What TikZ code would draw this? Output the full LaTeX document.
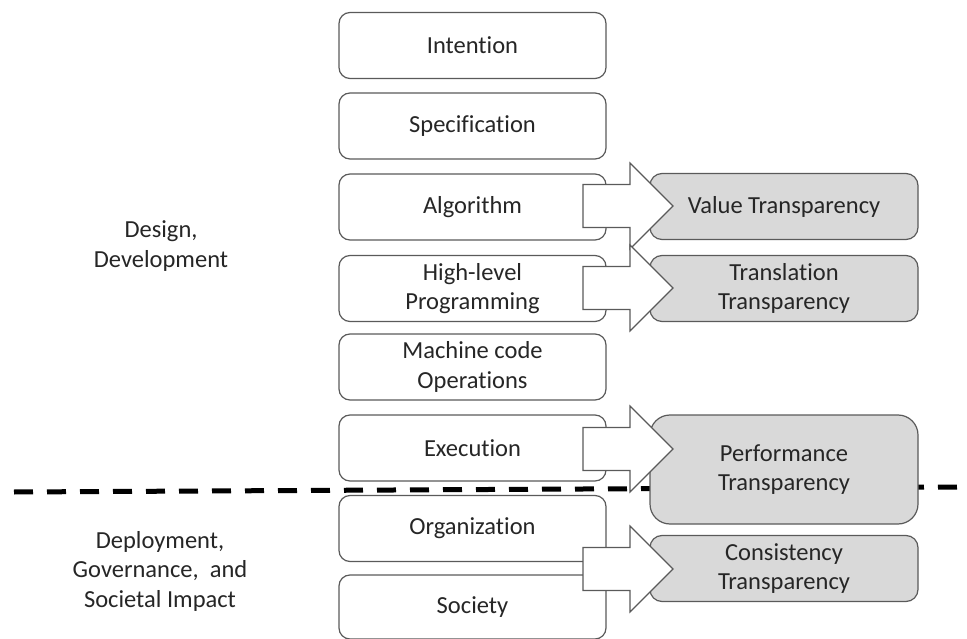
\documentclass[tikz,border=0pt]{standalone}
\usepackage{fontspec}
\setmainfont{Carlito}[Ligatures={NoCommon}]
\definecolor{linegray}{HTML}{5A5A5A}
\definecolor{boxgray}{HTML}{D9D9D9}
\definecolor{txt}{HTML}{262626}
\newcommand{\blockarrow}[1]{%
  \draw[barrow] (583,{#1-21.5}) -- (630,{#1-21.5}) -- (630,{#1-43}) -- (673,#1) -- (630,{#1+43}) -- (630,{#1+21.5}) -- (583,{#1+21.5}) -- cycle;}
\begin{document}
\begin{tikzpicture}[x=1pt,y=-1pt,
  lbox/.style={draw=linegray, line width=1.2pt, fill=white, rounded corners=11pt,
    minimum width=267pt, minimum height=66pt, inner sep=0pt, align=center,
    font=\fontsize{24.5}{29.5}\selectfont, text=txt},
  rbox/.style={lbox, fill=boxgray, minimum width=268pt, rounded corners=12pt},
  barrow/.style={draw=linegray, line width=1.2pt, fill=white, line join=miter},
  lbl/.style={align=center, font=\fontsize{24.5}{29.5}\selectfont, text=txt}]
\useasboundingbox (0,0) rectangle (967,639);
% separator
\draw[line width=5pt, dash pattern=on 19pt off 14pt] (14,492) -- (962,487);
% left column
\node[lbox] (int)  at (472.5,45.5) {Intention};
\node[lbox] (spec) at (472.5,126)  {Specification};
\node[lbox] (alg)  at (472.5,207)  {Algorithm};
\node[lbox] (hlp)  at (472.5,288.5){High-level\\Programming};
\node[lbox] (mco)  at (472.5,367)  {Machine code\\Operations};
\node[lbox] (exe)  at (472.5,448)  {Execution};
\node[lbox] (org)  at (472.5,528.5){Organization};
\node[lbox, minimum height=64pt] (soc) at (472.5,607) {Society};
% right column
\node[rbox] (val)  at (784,206.5) {Value Transparency};
\node[rbox] (tra)  at (784,288.5) {Translation\\Transparency};
\node[rbox, minimum height=109pt, rounded corners=20pt] (per) at (784,469.5) {Performance\\Transparency};
\node[rbox] (con)  at (784,568.5) {Consistency\\Transparency};
% block arrows
\blockarrow{206}
\blockarrow{288}
\blockarrow{449}
\blockarrow{569}
% side labels
\node[lbl] (dd) at (161,246) {Design,\\Development};
\node[lbl] (dg) at (160,571) {Deployment,\\Governance,~ and\\Societal Impact};
\end{tikzpicture}
\end{document}
